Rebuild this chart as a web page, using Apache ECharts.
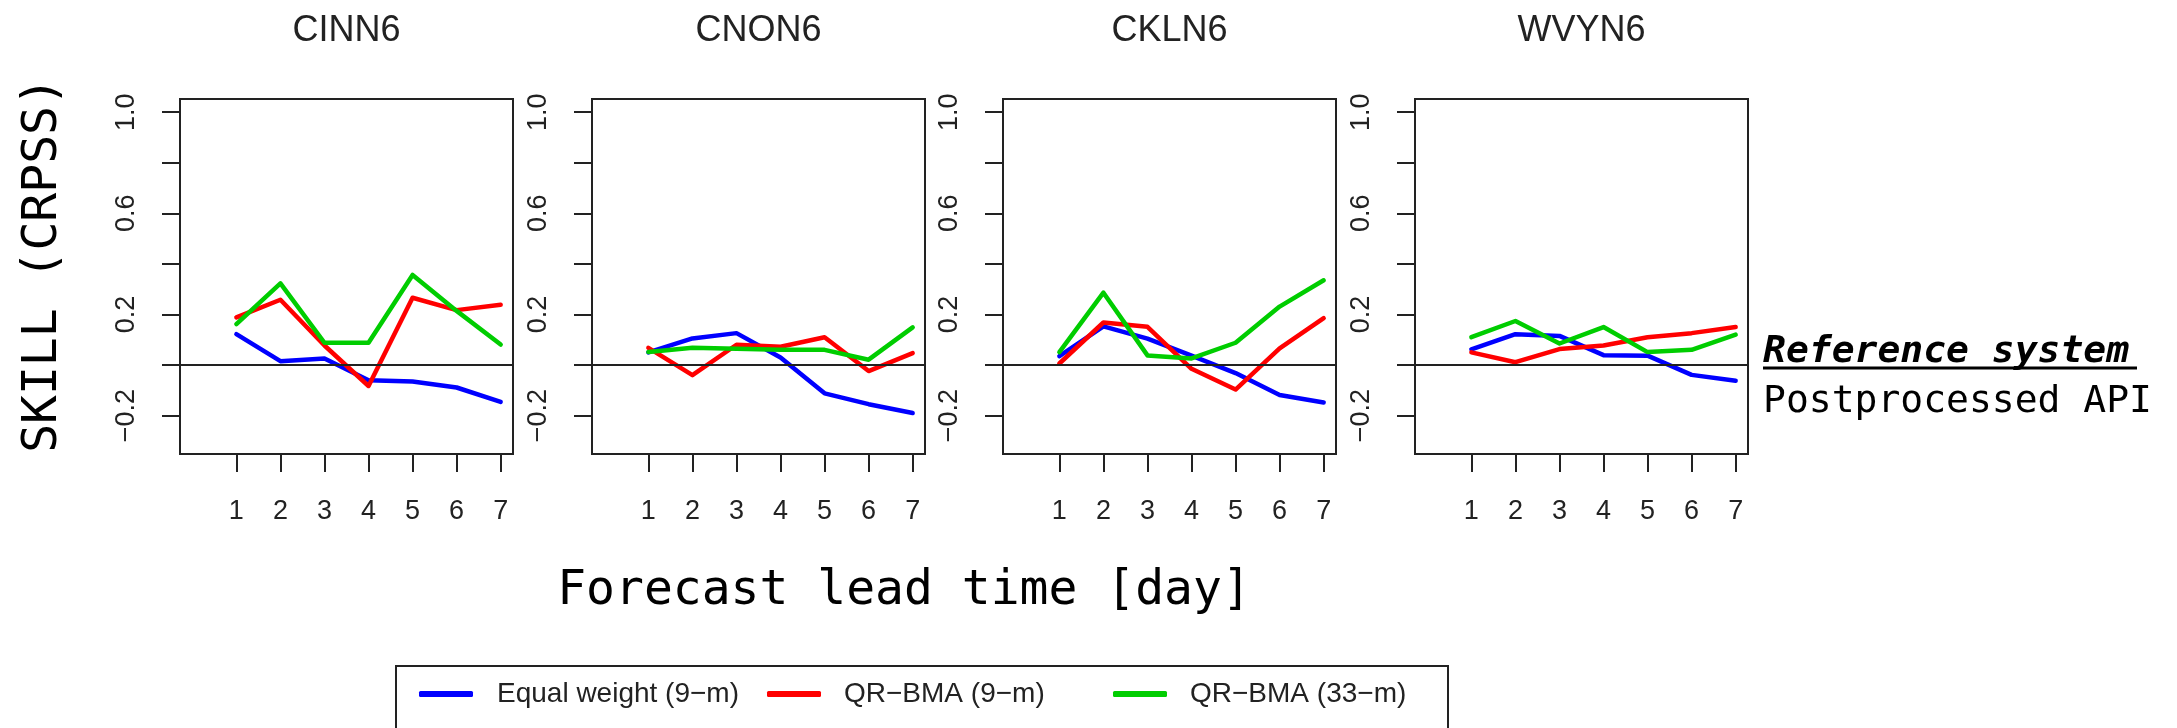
<!DOCTYPE html>
<html>
<head>
<meta charset="utf-8">
<script src="https://cdn.jsdelivr.net/npm/echarts@6/dist/echarts.min.js"></script>
<style>
  html, body { margin: 0; padding: 0; background: #fff; }
  #main { width: 2177px; height: 728px; }
</style>
</head>
<body>
<div id="main"></div>
<script>
// data
var leadDays = [1, 2, 3, 4, 5, 6, 7];
var stations = ['CINN6', 'CNON6', 'CKLN6', 'WVYN6'];

// one row per station, same order as stations
var equalWeight9m = [
  [0.122, 0.015, 0.026, -0.060, -0.065, -0.089, -0.146],
  [0.050, 0.105, 0.126, 0.030, -0.112, -0.155, -0.190],
  [0.035, 0.153, 0.104, 0.037, -0.032, -0.119, -0.148],
  [0.062, 0.122, 0.115, 0.039, 0.037, -0.039, -0.062]
];
var qrBma9m = [
  [0.188, 0.258, 0.077, -0.083, 0.266, 0.217, 0.238],
  [0.068, -0.040, 0.080, 0.072, 0.110, -0.024, 0.047],
  [0.006, 0.168, 0.151, -0.015, -0.097, 0.066, 0.185],
  [0.050, 0.011, 0.063, 0.077, 0.110, 0.126, 0.150]
];
var qrBma33m = [
  [0.162, 0.323, 0.088, 0.088, 0.356, 0.214, 0.081],
  [0.051, 0.068, 0.064, 0.060, 0.060, 0.021, 0.149],
  [0.051, 0.286, 0.038, 0.026, 0.088, 0.231, 0.335],
  [0.110, 0.174, 0.085, 0.150, 0.051, 0.060, 0.120]
];

var yTicks = [-0.2, 0, 0.2, 0.4, 0.6, 0.8, 1.0];
var yLabels = [-0.2, 0.2, 0.6, 1.0];

var seriesNames = ['Equal weight (9\u2212m)', 'QR\u2212BMA (9\u2212m)', 'QR\u2212BMA (33\u2212m)'];
var seriesColors = ['#0000ff', '#ff0000', '#00cd00'];
var seriesData = [equalWeight9m, qrBma9m, qrBma33m];

var gridLefts = [180, 592, 1003, 1415];
var gridW = 333;
var gridTop = 99;
var gridH = 355;

var ink = '#222';
var sans = '"Liberation Sans", Arial, sans-serif';
var mono = '"DejaVu Sans Mono", monospace';

var chart = echarts.init(document.getElementById('main'), null, { renderer: 'canvas' });

var grids = [], xAxes = [], yAxes = [], series = [], titles = [];

stations.forEach(function (st, i) {
  grids.push({
    left: gridLefts[i], top: gridTop, width: gridW, height: gridH,
    show: true, borderColor: ink, borderWidth: 2, backgroundColor: 'transparent'
  });
  titles.push({
    text: st, left: gridLefts[i] + gridW / 2, top: 13, textAlign: 'center', padding: 0,
    textStyle: { fontFamily: sans, fontSize: 36, fontWeight: 'normal', color: ink }
  });
  xAxes.push({
    type: 'value', gridIndex: i, min: -0.28, max: 7.28,
    axisLine: { show: false, onZero: false },
    splitLine: { show: false },
    axisTick: { show: true, inside: false, length: 18, customValues: leadDays,
      lineStyle: { color: ink, width: 2 } },
    axisLabel: { show: true, customValues: leadDays, margin: 44,
      fontFamily: sans, fontSize: 27, color: ink }
  });
  yAxes.push({
    type: 'value', gridIndex: i, min: -0.352, max: 1.052,
    axisLine: { show: false, onZero: false },
    splitLine: { show: false },
    axisTick: { show: true, inside: false, length: 18, customValues: yTicks,
      lineStyle: { color: ink, width: 2 } },
    axisLabel: { show: true, customValues: yLabels, rotate: 90, margin: 40,
      fontFamily: sans, fontSize: 27, color: ink,
      formatter: function (v) { return v.toFixed(1).replace('-', '\u2212'); } }
  });
  seriesData.forEach(function (arr, k) {
    var s = {
      name: seriesNames[k], type: 'line', xAxisIndex: i, yAxisIndex: i,
      data: leadDays.map(function (d, j) { return [d, arr[i][j]]; }),
      showSymbol: false, symbol: 'none', animation: false, silent: true,
      lineStyle: { color: seriesColors[k], width: 4.5, cap: 'round', join: 'round' },
      itemStyle: { color: seriesColors[k] },
      z: 3 + k
    };
    if (k === 0) {
      // horizontal reference line at zero skill
      s.markLine = {
        silent: true, symbol: 'none', animation: false,
        label: { show: false },
        lineStyle: { color: ink, width: 2, type: 'solid' },
        data: [{ yAxis: 0 }]
      };
    }
    series.push(s);
  });
});

var legendIcon = [419, 767, 1113];
var legendPad = [19, 18, 18];
var legends = seriesNames.map(function (n, k) {
  return {
    data: [n], left: legendIcon[k], top: 679, padding: 0,
    icon: 'roundRect', itemWidth: 54, itemHeight: 6, selectedMode: false,
    textStyle: { fontFamily: sans, fontSize: 28, color: ink, lineHeight: 30,
      padding: [0, 0, 0, legendPad[k]] }
  };
});

var option = {
  backgroundColor: '#fff',
  animation: false,
  title: titles,
  legend: legends,
  grid: grids,
  xAxis: xAxes,
  yAxis: yAxes,
  series: series,
  graphic: [
    { type: 'text', x: 44, y: 265, rotation: Math.PI / 2,
      style: { text: 'SKILL (CRPSS)', font: '48px ' + mono, fill: '#000',
        textAlign: 'center', textVerticalAlign: 'middle' } },
    { type: 'text', x: 904, y: 592,
      style: { text: 'Forecast lead time [day]', font: '48px ' + mono, fill: '#000',
        textAlign: 'center', textVerticalAlign: 'middle' } },
    { type: 'text', x: 1763, y: 352,
      style: { text: 'Reference system', font: 'italic bold 38px ' + mono, fill: '#000',
        textAlign: 'left', textVerticalAlign: 'middle' } },
    { type: 'line', shape: { x1: 1763, y1: 368, x2: 2137, y2: 368 },
      style: { stroke: '#000', lineWidth: 3 } },
    { type: 'text', x: 1763, y: 402,
      style: { text: 'Postprocessed API', font: '38px ' + mono, fill: '#000',
        textAlign: 'left', textVerticalAlign: 'middle' } },
    { type: 'rect', shape: { x: 396, y: 666, width: 1052, height: 120 },
      style: { fill: 'none', stroke: ink, lineWidth: 2 } }
  ]
};

chart.setOption(option);
</script>
</body>
</html>
